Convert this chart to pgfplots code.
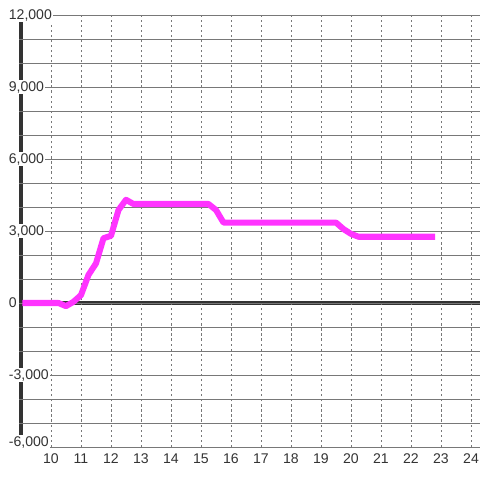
\documentclass[border=0pt]{standalone}
\usepackage{pgfplots}
\pgfplotsset{compat=1.18}
\usepackage{fontspec}
\setmainfont{Liberation Sans}

\definecolor{txt}{RGB}{51,51,51}
\definecolor{gridc}{RGB}{120,120,120}
\definecolor{linec}{RGB}{255,51,255}

% tick labels (white boxes) must sit above the thick axis lines
\pgfplotsset{
  layers/labelsover/.define layer set={
    axis background,axis grid,axis ticks,pre main,axis lines,
    axis tick labels,main,axis descriptions,axis foreground
  }{},
}

\begin{document}
\begin{tikzpicture}
% 1px = 0.025cm, picture is 480x480 px, 30px per hour
\begin{axis}[
    set layers=labelsover,
    scale only axis,
    width=11.52cm,
    height=10.8cm,
    xmin=8.94, xmax=24.3,
    ymin=-6000, ymax=12000,
    axis line style={draw=none},
    major tick length=0pt,
    minor tick length=0pt,
    xtick={10,11,...,24},
    ytick={-3000,0,3000,6000,9000,12000},
    minor ytick={-6000,-5000,-4000,-2000,-1000,1000,2000,4000,5000,7000,8000,10000,11000},
    ymajorgrids, yminorgrids, xmajorgrids,
    y grid style={gridc, line width=0.7pt},
    minor y grid style={gridc, line width=0.7pt},
    x grid style={gridc, line width=0.7pt, dash pattern=on 1.6pt off 2pt},
    tick label style={font=\fontsize{10}{12}\selectfont, text=txt},
    /pgf/number format/assume math mode=true,
    /pgf/number format/1000 sep={,},
    scaled y ticks=false,
    yticklabel style={anchor=west, xshift=-0.3cm, fill=white, inner sep=1pt},
    xticklabel style={yshift=-1pt},
]

% axis lines drawn into the tick label layer, before the labels themselves
\begin{pgfonlayer}{axis tick labels}
\draw[txt, line width=2.2pt] (axis cs:9,-6000) -- (axis cs:9,12000);
\draw[txt, line width=2.2pt] (axis cs:9,0) -- (axis cs:24.3,0);
\end{pgfonlayer}
\coordinate (bottomlabel) at (axis cs:8.94,-6000);

\addplot[linec, line width=4.3pt, line join=round] coordinates {
    (9.05,0) (10.25,0) (10.5,-130) (10.75,50) (11,330) (11.25,1170)
    (11.5,1650) (11.75,2700) (12,2800) (12.25,3875) (12.5,4300)
    (12.75,4125) (15.25,4125) (15.5,3875) (15.75,3350) (19.5,3350)
    (19.75,3080) (20,2880) (20.25,2760) (22.8,2760)
};

\end{axis}
% bottom label sits a little above its grid line
\node[anchor=west, xshift=-0.3cm, yshift=3.5pt, fill=white, inner sep=1pt,
      font=\fontsize{10}{12}\selectfont, text=txt] at (bottomlabel) {-6,000};
\pgfresetboundingbox
\path (-0.48,-0.825) rectangle (11.52,11.175);
\end{tikzpicture}
\end{document}
